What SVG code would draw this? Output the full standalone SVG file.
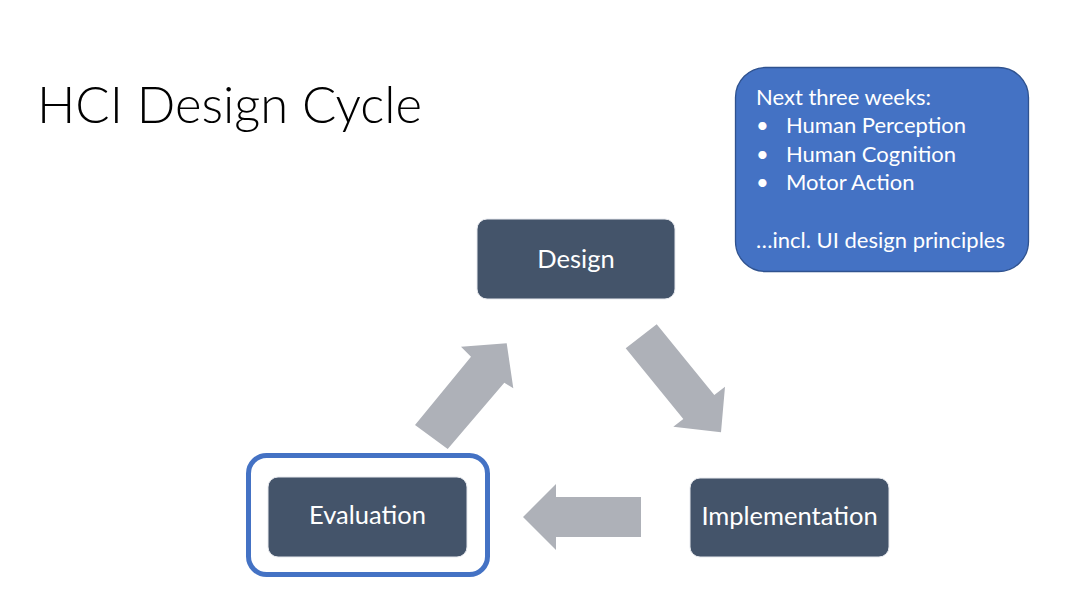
<svg xmlns="http://www.w3.org/2000/svg" width="1080" height="592" viewBox="0 0 1080 592">
<style>
.node rect.box{fill:#44546A;stroke:#E7E9EE;stroke-width:1}
.node text{fill:#FFFFFF;font-family:Lato,"Open Sans",sans-serif;font-size:25.5px;text-anchor:middle}
.arrow{fill:#AEB1B8}
.title{fill:#000000;font-family:Lato,"Open Sans",sans-serif;font-size:50.8px;font-weight:300}
.note text{fill:#FFFFFF;font-family:Lato,"Open Sans",sans-serif;font-size:22px}
</style>
<rect width="1080" height="592" fill="#FFFFFF"/>
<text class="title" x="37" y="123">HCI Design Cycle</text>
<g id="note" class="note">
<rect x="735.5" y="67.5" width="293" height="204" rx="30" fill="#4472C4" stroke="#2F528F" stroke-width="1.3"/>
<text x="756" y="105">Next three weeks:</text>
<text x="756" y="133">•</text><text x="786" y="133">Human Perception</text>
<text x="756" y="162">•</text><text x="786" y="162">Human Cognition</text>
<text x="756" y="190">•</text><text x="786" y="190">Motor Action</text>
<text x="756" y="248">…incl. UI design principles</text>
</g>
<g id="connectors">
<polygon class="arrow" points="415,425 471,356.7 461,346.7 506.7,343.3 513.3,388.3 504.3,382.7 447.7,449"/>
<polygon class="arrow" points="656.7,324.3 714.3,395 725,386.7 721,432.3 673.3,426.7 683.3,419 625.7,348.3"/>
<polygon class="arrow" points="641,497 556,497 556,484 523,517 556,550 556,537 641,537"/>
</g>
<g id="design" class="node">
<rect class="box" x="477" y="219" width="198" height="80" rx="10"/>
<text x="576" y="268">Design</text>
</g>
<g id="implementation" class="node">
<rect class="box" x="690" y="478" width="199" height="79" rx="10"/>
<text x="789.5" y="525">Implementation</text>
</g>
<g id="evaluation" class="node">
<rect x="248.5" y="455.5" width="239" height="119" rx="18" fill="none" stroke="#4472C4" stroke-width="5"/>
<rect class="box" x="268" y="477" width="199" height="80" rx="10"/>
<text x="367.5" y="524">Evaluation</text>
</g>
</svg>
